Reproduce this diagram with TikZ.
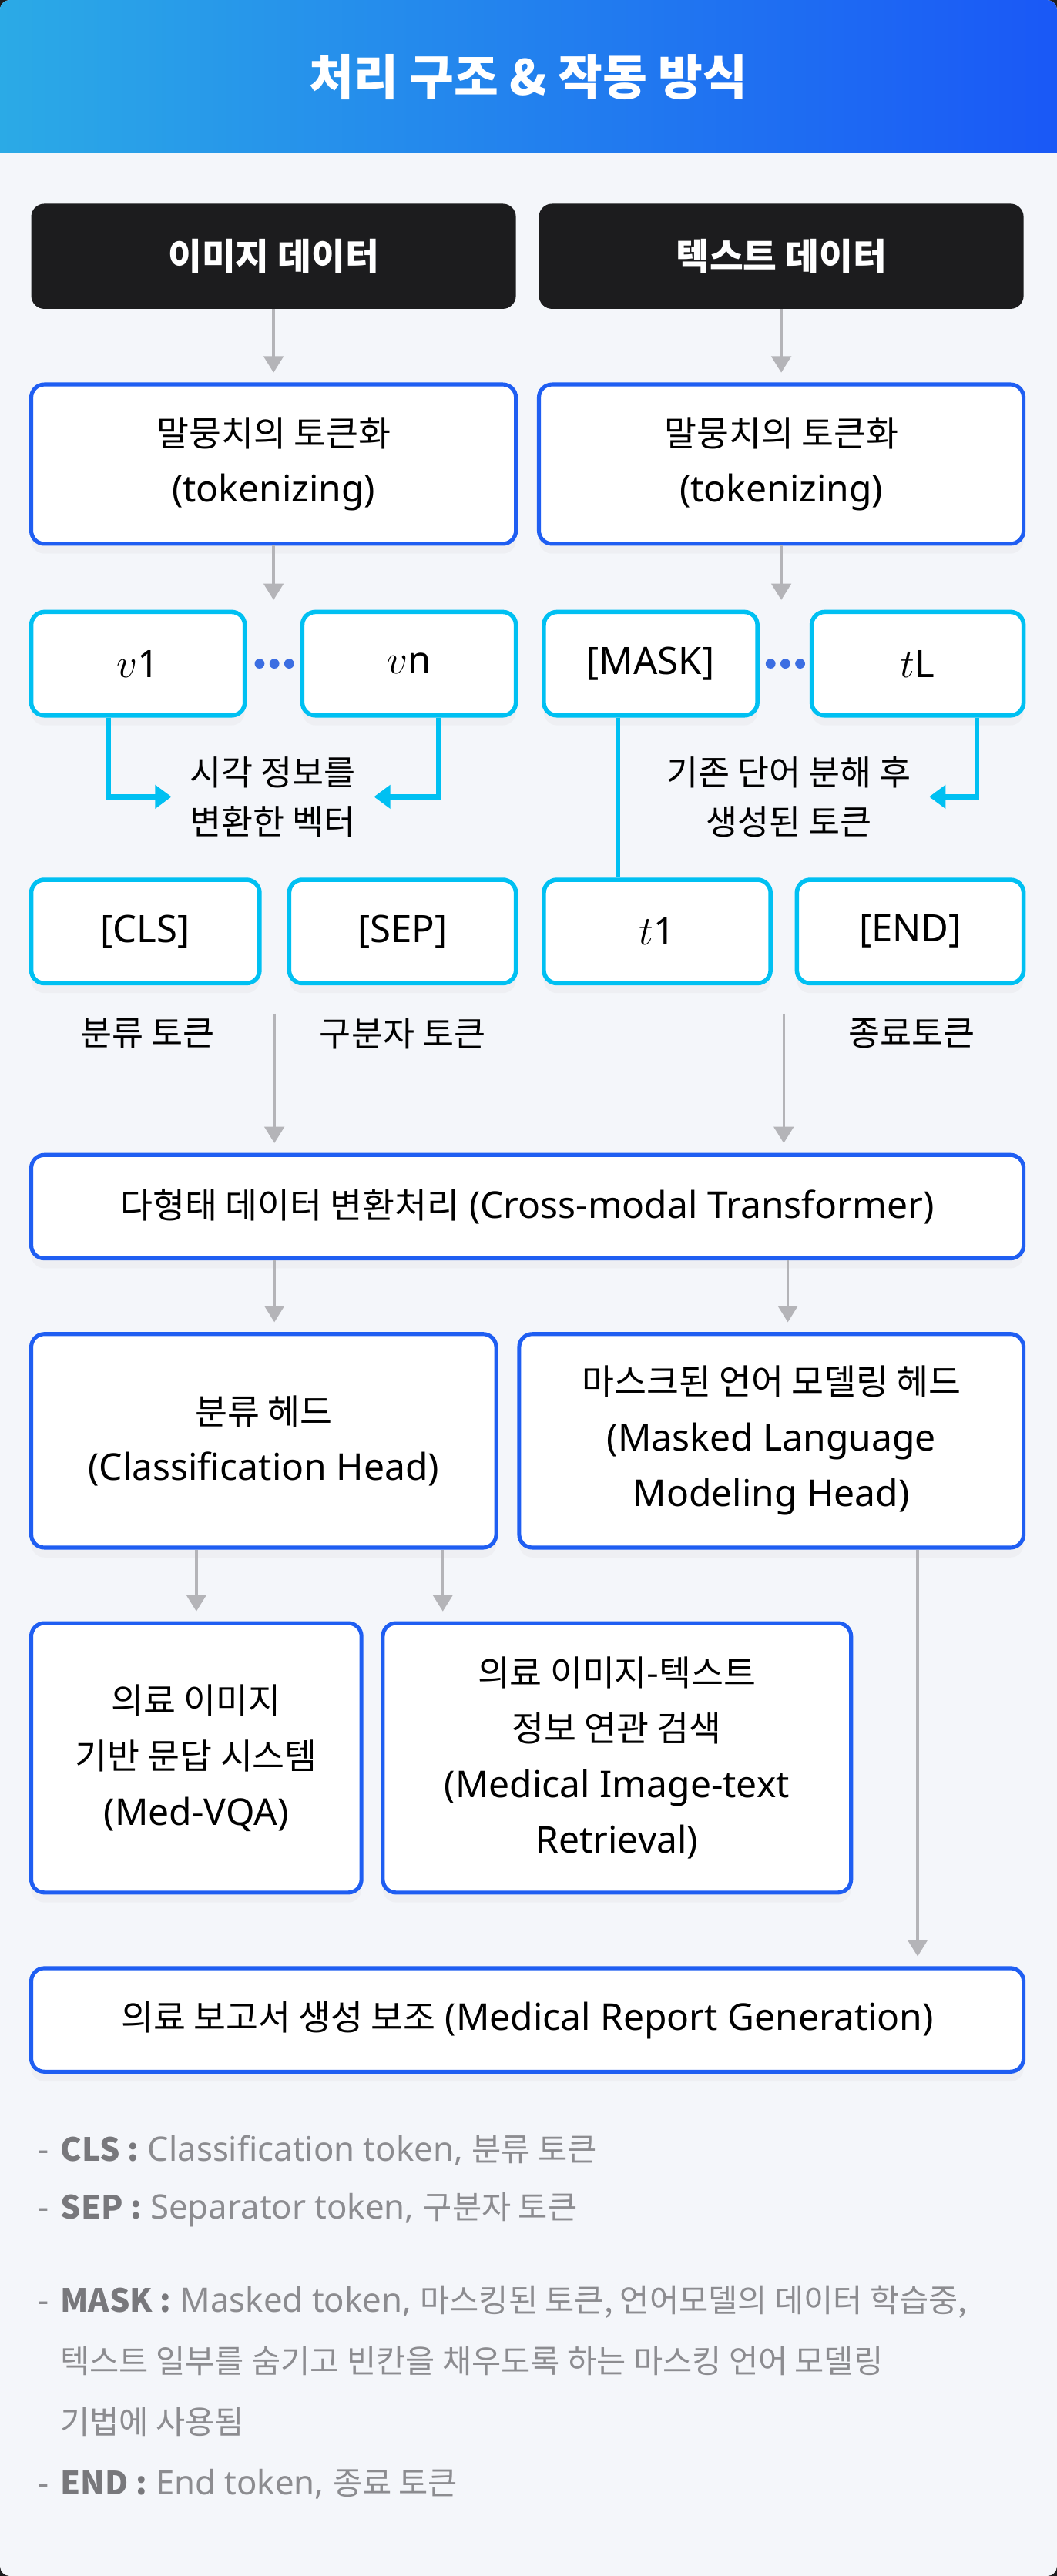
\documentclass[tikz,border=0pt]{standalone}
\usepackage{fontspec}
\setmainfont{Noto Sans}
\newfontfamily\kr{Noto Sans CJK KR}[Scale=0.95]
\usepackage{tikz}
\usetikzlibrary{arrows.meta,shadows}

\definecolor{hdrleft}{HTML}{2BAAE6}
\definecolor{hdrright}{HTML}{1A58F6}
\definecolor{pagebg}{HTML}{F4F6FA}
\definecolor{darkbox}{HTML}{1C1C1E}
\definecolor{boxblue}{HTML}{1F5EF2}
\definecolor{tokcyan}{HTML}{00C0F2}
\definecolor{linegray}{HTML}{B4B4B8}
\definecolor{dotblue}{HTML}{3C6EE2}
\definecolor{notegray}{HTML}{8C8C90}
\definecolor{notebold}{HTML}{78787C}

\def\notedash{-\hspace{7pt}}
\def\notekey#1{{\color{notebold}\kr\bfseries #1 :}}

\tikzset{
  softshadow/.style={drop shadow={opacity=0.05, shadow xshift=0pt, shadow yshift=-6pt}},
  databox/.style={fill=darkbox, rounded corners=8pt, text=white, inner sep=0pt,
    font=\fontsize{23.5}{26}\selectfont\bfseries\kr, minimum width=295pt, minimum height=64pt},
  stepbox/.style={draw=boxblue, line width=2.4pt, fill=white, rounded corners=8pt,
    align=center, inner sep=0pt, font=\fontsize{22.5}{34}\selectfont, softshadow},
  tokbox/.style={draw=tokcyan, line width=2.6pt, fill=white, rounded corners=8pt,
    inner sep=0pt, font=\fontsize{23}{26}\selectfont, minimum height=63pt, softshadow},
  caption/.style={align=center, inner sep=0pt, font=\fontsize{22}{30}\selectfont\kr},
  grayarrow/.style={draw=linegray, line width=1.6pt, -{Triangle[width=12pt,length=10pt]}, shorten >=6pt},
  cyanarrow/.style={draw=tokcyan, line width=3pt, -{Triangle[width=14pt,length=10pt]}},
  cyanline/.style={draw=tokcyan, line width=3pt},
  notetext/.style={anchor=west, inner sep=0pt, align=left, text=notegray, font=\fontsize{20.5}{37}\selectfont},
}

\begin{document}
\begin{tikzpicture}[x=1pt,y=-1pt]
%%%%% START %%%%%
\useasboundingbox (0,0) rectangle (643.3,1568);
\fill[darkbox] (0,0) rectangle (643.3,1568);
\begin{scope}
  \clip[rounded corners=6pt] (0,0) rectangle (643.3,1568);
  \fill[pagebg] (0,0) rectangle (643.3,1568);
  \shade[left color=hdrleft, right color=hdrright] (0,0) rectangle (643.3,93);
\end{scope}

\node[text=white, font=\fontsize{31}{34}\selectfont\bfseries\kr] (title) at (321.6,47) {처리 구조 \& 작동 방식};

% input data
\node[databox] (imgdata) at (166.5,156) {이미지 데이터};
\node[databox] (txtdata) at (475.5,156) {텍스트 데이터};

% tokenizing
\node[stepbox, minimum width=295pt, minimum height=97pt] (imgtok) at (166.5,282.5) {{\kr 말뭉치의 토큰화}\\(tokenizing)};
\node[stepbox, minimum width=295pt, minimum height=97pt] (txttok) at (475.5,282.5) {{\kr 말뭉치의 토큰화}\\(tokenizing)};

% tokens, first row
\node[tokbox, minimum width=130pt] (v1) at (84,404) {$v$1};
\node[tokbox, minimum width=130pt] (vn) at (249,404) {$v$n};
\node[tokbox, minimum width=130pt] (mask) at (396,404) {[MASK]};
\node[tokbox, minimum width=129pt] (tL) at (558.5,404) {$t$L};

\fill[dotblue] (158,404) circle (3);
\fill[dotblue] (167,404) circle (3);
\fill[dotblue] (176,404) circle (3);
\fill[dotblue] (469,404) circle (3);
\fill[dotblue] (478,404) circle (3);
\fill[dotblue] (487,404) circle (3);

\node[caption] (vislab) at (166,485) {시각 정보를\\변환한 벡터};
\node[caption] (wordlab) at (480,485) {기존 단어 분해 후\\생성된 토큰};

% tokens, second row
\node[tokbox, minimum width=139pt] (cls) at (88.5,567) {[CLS]};
\node[tokbox, minimum width=138pt] (sep) at (245,567) {[SEP]};
\node[tokbox, minimum width=138pt] (t1) at (400,567) {$t$1};
\node[tokbox, minimum width=138pt] (endtok) at (554,567) {[END]};

\node[caption] (clslab) at (90,629) {분류 토큰};
\node[caption] (seplab) at (245,629) {구분자 토큰};
\node[caption] (endlab) at (555,629) {종료토큰};

% transformer and heads
\node[stepbox, minimum width=604pt, minimum height=63pt] (cross) at (321,734.5) {{\kr 다형태 데이터 변환처리} (Cross-modal Transformer)};
\node[stepbox, minimum width=283pt, minimum height=130pt] (clshead) at (160.5,877) {{\kr 분류 헤드}\\(Classification Head)};
\node[stepbox, minimum width=307pt, minimum height=130pt] (mlmhead) at (469.5,877) {{\kr 마스크된 언어 모델링 헤드}\\(Masked Language\\Modeling Head)};

% tasks
\node[stepbox, minimum width=201pt, minimum height=164pt] (medvqa) at (119.5,1070) {{\kr 의료 이미지}\\{\kr 기반 문답 시스템}\\(Med-VQA)};
\node[stepbox, minimum width=285pt, minimum height=164pt] (retrieval) at (375.5,1070) {{\kr 의료 이미지-텍스트}\\{\kr 정보 연관 검색}\\(Medical Image-text\\Retrieval)};
\node[stepbox, minimum width=604pt, minimum height=63pt] (report) at (321,1229.5) {{\kr 의료 보고서 생성 보조} (Medical Report Generation)};

% connectors
\draw[grayarrow] (imgdata.south) -- (imgtok.north);
\draw[grayarrow] (txtdata.south) -- (txttok.north);
\draw[grayarrow] (imgtok.south) -- (imgtok.south |- v1.north);
\draw[grayarrow] (txttok.south) -- (txttok.south |- mask.north);

\draw[cyanarrow] ([xshift=-18pt]v1.south) |- ([xshift=-11pt]vislab.west);
\draw[cyanarrow] ([xshift=18pt]vn.south) |- ([xshift=11pt]vislab.east);
\draw[cyanarrow] ([xshift=36pt]tL.south) |- ([xshift=11pt]wordlab.east);
\coordinate (maskdrop) at ([xshift=-20pt]mask.south);
\draw[cyanline] (maskdrop) -- (maskdrop |- t1.north);

\coordinate (imgjoin) at (167,617);
\coordinate (txtjoin) at (477,617);
\draw[grayarrow] (imgjoin) -- (imgjoin |- cross.north);
\draw[grayarrow] (txtjoin) -- (txtjoin |- cross.north);

\coordinate (mlmin) at ([xshift=10pt]mlmhead.north);
\draw[grayarrow] (imgjoin |- cross.south) -- (imgjoin |- clshead.north);
\draw[grayarrow] (mlmin |- cross.south) -- (mlmin);

\coordinate (retin) at ([xshift=-106pt]retrieval.north);
\draw[grayarrow] (medvqa.north |- clshead.south) -- (medvqa.north);
\draw[grayarrow] (retin |- clshead.south) -- (retin);

\coordinate (mlmout) at ([xshift=89pt]mlmhead.south);
\draw[grayarrow] (mlmout) -- (mlmout |- report.north);

% notes
\node[notetext] (notecls) at (23,1309) {\notedash\notekey{CLS} Classification token, {\kr 분류 토큰}};
\node[notetext] (notesep) at (23,1345) {\notedash\notekey{SEP} Separator token, {\kr 구분자 토큰}};
\node[notetext] (notemask) at (23,1437) {\notedash\notekey{MASK} Masked token, {\kr 마스킹된 토큰, 언어모델의 데이터 학습중,}\\
  \hphantom{\notedash}{\kr 텍스트 일부를 숨기고 빈칸을 채우도록 하는 마스킹 언어 모델링}\\
  \hphantom{\notedash}{\kr 기법에 사용됨}};
\node[notetext] (noteend) at (23,1512) {\notedash\notekey{END} End token, {\kr 종료 토큰}};
%%%%% END %%%%%
\end{tikzpicture}
\end{document}
